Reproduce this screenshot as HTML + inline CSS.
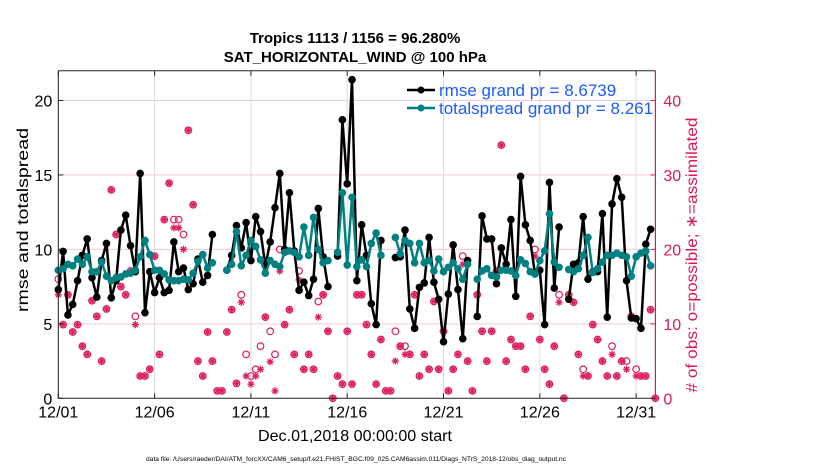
<!DOCTYPE html>
<html><head><meta charset="utf-8"><style>
html,body{margin:0;padding:0;background:#fff;}
svg{display:block;font-family:"Liberation Sans",Arial,sans-serif;}
</style></head><body>
<svg id="chart" width="830" height="470" viewBox="0 0 830 470">
<g id="grid"></g>
<g id="obs"></g>
<g id="lines"></g>
<g id="axes"></g>
<text x="355" y="43" text-anchor="middle" font-size="15" font-weight="bold">Tropics 1113 / 1156 = 96.280%</text>
<text x="355" y="62" text-anchor="middle" font-size="15" font-weight="bold">SAT_HORIZONTAL_WIND @ 100 hPa</text>
<text x="355" y="441" text-anchor="middle" font-size="16" textLength="194" lengthAdjust="spacingAndGlyphs">Dec.01,2018 00:00:00 start</text>
<text transform="translate(28,220) rotate(-90)" text-anchor="middle" font-size="16" textLength="184" lengthAdjust="spacingAndGlyphs">rmse and totalspread</text>
<text transform="translate(697,255) rotate(-90)" text-anchor="middle" font-size="16" textLength="275" lengthAdjust="spacingAndGlyphs" fill="#d81b5a"># of obs: o=possible; ∗=assimilated</text>
<text x="356" y="461" text-anchor="middle" font-size="6.7" textLength="420" lengthAdjust="spacingAndGlyphs">data file: /Users/raeder/DAI/ATM_forcXX/CAM6_setup/f.e21.FHIST_BGC.f09_025.CAM6assim.011/Diags_NTrS_2018-12/obs_diag_output.nc</text>
<g>
<line x1="407" y1="90" x2="435" y2="90" stroke="#000" stroke-width="2.5"/>
<circle cx="421" cy="90" r="3.5" fill="#000"/>
<text x="439" y="96" font-size="17" fill="#1a5cff">rmse grand pr = 8.6739</text>
<line x1="407" y1="108" x2="435" y2="108" stroke="#008080" stroke-width="2.5"/>
<circle cx="421" cy="108" r="3.5" fill="#008080"/>
<text x="439" y="114" font-size="17" fill="#1a5cff">totalspread grand pr = 8.261</text>
</g>
</svg>
<script>
const N=null;
const rmse=[7.3,9.86,5.6,6.3,7.9,9.6,10.7,8.1,6.8,9.25,10.4,6.75,7.9,11.3,12.3,10.25,8.5,15.1,5.75,8.5,7.1,8.1,7.1,7.25,10.5,8.5,8.75,7.3,7.7,9.35,7.8,8.25,11.0,N,N,8.6,9.6,11.6,10.1,11.8,9.25,12.2,11.2,8.9,10.5,12.8,15.1,10.0,13.8,9.9,7.25,7.8,6.9,8.0,12.75,9.5,7.5,N,9.55,18.7,14.4,21.4,7.9,11.65,9.6,6.35,4.95,10.6,N,N,9.45,9.5,11.3,6.0,4.7,7.45,7.75,10.8,7.8,6.65,3.8,7.0,10.3,7.3,4.0,9.25,N,5.5,12.25,10.7,10.7,7.7,10.1,9.0,12.0,6.85,14.9,11.65,10.6,8.35,8.6,4.95,14.5,7.4,11.5,N,6.65,9.0,9.1,12.2,8.0,8.5,8.5,12.4,5.45,13.05,14.75,13.5,7.9,5.4,5.35,4.7,10.35,11.35,N];
const spread=[8.6,8.7,9.0,8.9,9.35,9.0,9.5,8.5,8.5,9.15,8.2,7.9,8.1,8.15,8.35,8.4,8.6,9.5,10.6,9.65,8.6,8.6,8.35,7.95,7.9,7.9,8.0,7.95,8.4,9.2,9.65,8.75,9.1,N,N,8.6,9.0,11.2,8.9,9.6,10.6,10.2,9.3,8.4,9.25,9.0,8.85,9.8,9.9,9.8,9.5,11.5,9.6,12.15,10.0,9.1,9.25,N,9.8,13.8,8.95,13.5,8.85,9.3,8.85,10.4,11.1,9.6,N,N,10.8,9.7,10.6,10.4,9.1,10.4,9.1,9.25,8.55,9.35,8.5,8.8,9.1,8.7,8.0,9.0,N,8.0,8.55,8.7,8.25,8.15,8.6,8.6,8.55,8.25,9.3,9.05,8.5,8.35,9.25,9.9,12.4,9.15,8.8,N,8.65,8.5,8.7,9.6,10.8,8.45,8.7,9.15,9.6,9.6,9.75,9.6,9.5,8.2,9.5,9.75,9.9,8.9,N];
const possible=[16,9.9,13.9,8.9,9.9,7,5.9,13.1,11,5,12,28,22,15,13.9,17.1,11,3,3,3.9,19.1,5.9,24,28.9,24,24,22,36,26,5,3,8.9,5,1,1,8.9,11.9,2,13.9,5.9,3,3.9,7,10.9,9,5.9,20,9.9,11.9,5.9,17.1,3.9,5.9,3.9,13,13.9,9,0,3,1.9,9,1.9,13.9,13.9,9.9,5.9,1.9,7.9,1,1,9,7,7,5.9,13.9,3,5.9,3.9,13,3.9,9,1,3.9,5.9,19.1,5,1,13.9,9,5,9,17.1,34,5,7.9,7,7,3.9,11,20,7.9,3.9,1.9,7,13.9,0,13.9,12.9,5.9,3.9,3,9.9,7.9,5,3,7,3,5,5,11,3.9,3,3,11.9,0];
const assimilated=[13.9,9.9,13.9,8.9,9.9,7,5.9,13.1,11,5,12,28,22,15,13.9,17.1,9.9,3,3,3.9,19.1,5.9,24,28.9,22.9,22.9,20,36,26,5,3,8.9,5,1,1,8.9,11.9,2,12.9,3,1.9,3,3.9,10.9,4.9,1,17.1,9.9,11.9,5.9,15.9,3.9,5.9,3.9,10.9,13.9,9,0,3,1.9,9,1.9,13.9,13.9,9.9,5.9,1.9,7.9,1,1,5,7,5.9,5.9,13.9,3,5.9,3.9,13,3.9,9,1,3.9,5.9,18,5,1,13.9,9,5,9,17.1,34,5,7.9,7,7,3.9,11,19.1,7.9,3.9,1.9,7,12.9,0,13.9,12.9,5.9,3,3,9.9,7.9,5,3,5.9,3,5,3.9,11,3,3,3,11.9,0];
const xTickLabels=["12/01","12/06","12/11","12/16","12/21","12/26","12/31"];
const xTickDays=[0,5,10,15,20,25,30];
const yTicks=[0,5,10,15,20];
const yRightTicks=[0,10,20,30,40];
const stepDays=0.25;

const L=58.3,R=655.4,T=70.7,B=398.3;
const X=d=>L+(R-L)*d/31;
const Y=v=>B-(B-T)*v/22;
const Y2=v=>B-(B-T)*v/44;
const NS="http://www.w3.org/2000/svg";
function mk(tag,parent,attrs){const e=document.createElementNS(NS,tag);for(const k in attrs)e.setAttribute(k,attrs[k]);parent.appendChild(e);return e;}
const grid=document.getElementById('grid'),axes=document.getElementById('axes'),obs=document.getElementById('obs'),lines=document.getElementById('lines');
mk('rect',grid,{x:L,y:T,width:R-L,height:B-T,fill:'#fff'});
yTicks.forEach(v=>{if(v>0){const g=mk('line',grid,{x1:L,x2:R,y1:Y(v),y2:Y(v),stroke:'#f6c9d8','stroke-width':1});

}
const t=mk('text',axes,{x:L-6,y:Y(v)+6,'text-anchor':'end','font-size':16});t.textContent=v;


mk('line',axes,{x1:L,x2:L+5,y1:Y(v),y2:Y(v),stroke:'#222'});});
yRightTicks.forEach(v=>{const t=mk('text',axes,{x:R+8,y:Y2(v)+6,'font-size':16,fill:'#d81b5a'});t.textContent=v;


mk('line',axes,{x1:R-5,x2:R,y1:Y2(v),y2:Y2(v),stroke:'#d81b5a'});});
xTickDays.forEach((d,i)=>{const g=mk('line',grid,{x1:X(d),x2:X(d),y1:T,y2:B,stroke:'#dcdcdc','stroke-width':1});


mk('line',axes,{x1:X(d),x2:X(d),y1:B,y2:B-5,stroke:'#222'});
mk('line',axes,{x1:X(d),x2:X(d),y1:T,y2:T+5,stroke:'#222'});
const t=mk('text',axes,{x:X(d),y:B+19,'text-anchor':'middle','font-size':16});t.textContent=xTickLabels[i];

});
mk('path',axes,{d:`M${L},${T}H${R}M${L},${T}V${B}H${R}`,stroke:'#222',fill:'none','stroke-width':1});
mk('line',axes,{x1:R,x2:R,y1:T,y2:B,stroke:'#d81b5a','stroke-width':1.2});

const MG='#de1e5e';
possible.forEach((v,i)=>{if(v==null)return;const c=mk('circle',obs,{cx:X(i*stepDays),cy:Y2(v),r:3.3,fill:'none',stroke:MG,'stroke-width':1.2});

});
assimilated.forEach((v,i)=>{if(v==null)return;const x=X(i*stepDays),y=Y2(v),s=3.6;
const p=mk('path',obs,{d:`M${x-s},${y}H${x+s}M${x},${y-s}V${y+s}M${x-s*0.7},${y-s*0.7}L${x+s*0.7},${y+s*0.7}M${x-s*0.7},${y+s*0.7}L${x+s*0.7},${y-s*0.7}`,stroke:MG,'stroke-width':1.3});

});

function series(arr,color,name){let d='',pen=false;
arr.forEach((v,i)=>{if(v==null){pen=false;return;}d+=(pen?'L':'M')+X(i*stepDays).toFixed(1)+','+Y(v).toFixed(1);pen=true;});
const p=mk('path',lines,{d:d,stroke:color,'stroke-width':2.5,fill:'none','stroke-linejoin':'round'});


arr.forEach((v,i)=>{if(v==null)return;const c=mk('circle',lines,{cx:X(i*stepDays),cy:Y(v),r:3.8,fill:color});

});}
series(rmse,'#000','rmse');
series(spread,'#008080','totalspread');
</script>
</body></html>
